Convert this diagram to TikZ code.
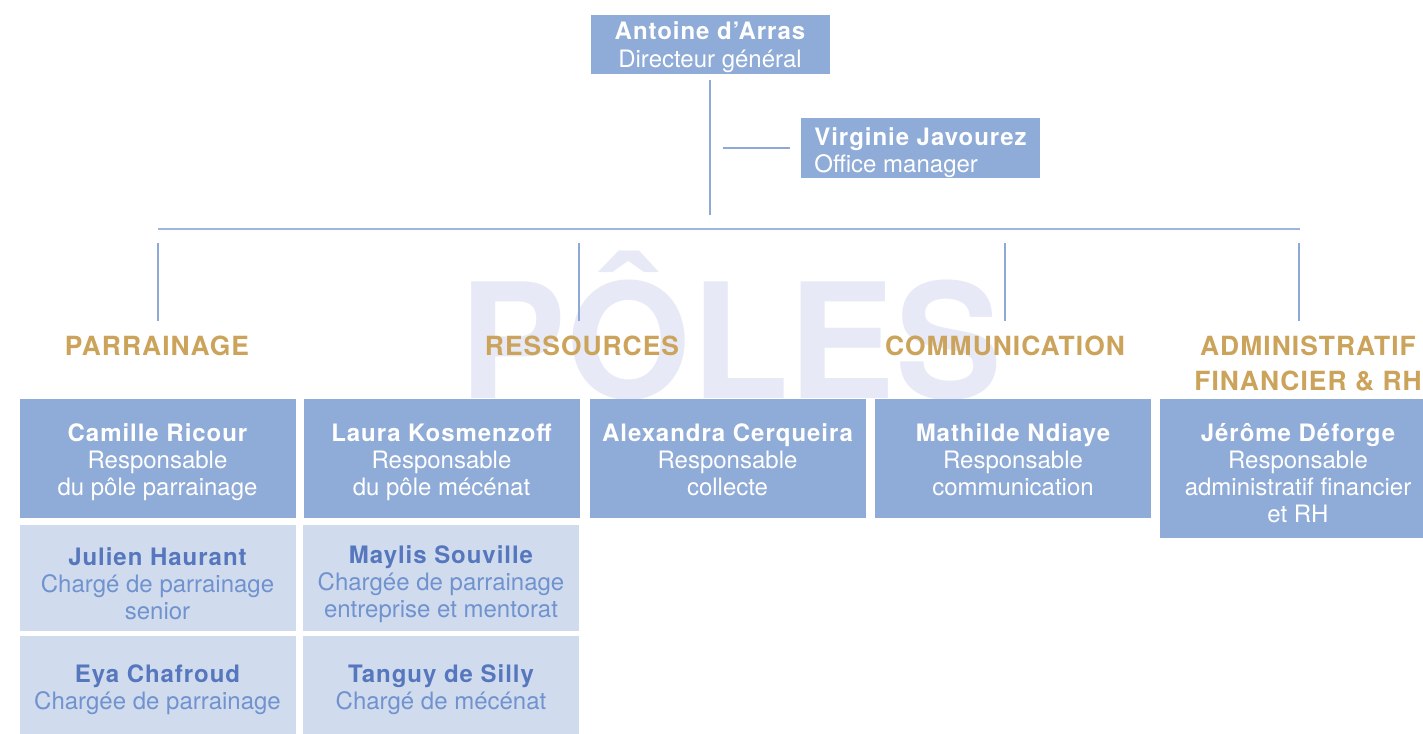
\documentclass[tikz,border=0pt]{standalone}
\usepackage{fontspec}
\setmainfont{TeX Gyre Heros}
\newfontfamily\bls[LetterSpace=4]{TeX Gyre Heros}
\definecolor{midb}{RGB}{143,171,215}
\definecolor{lightb}{RGB}{208,220,238}
\definecolor{namec}{RGB}{86,119,189}
\definecolor{rolec}{RGB}{112,146,206}
\definecolor{gold}{RGB}{204,163,90}
\definecolor{wm}{RGB}{231,234,246}
\definecolor{linec}{RGB}{142,168,216}
\newcommand\pname[1]{{\bls\bfseries #1}}
\newcommand\lname[1]{{\bls\bfseries\color{namec}#1}}
\newcommand\tup[1]{\rule{0pt}{#1}}
\tikzset{
  mbox/.style={fill=midb, text=white, minimum width=138pt, align=center, inner sep=0pt,
    font=\fontsize{12}{13.5}\selectfont},
  lbox/.style={fill=lightb, text=rolec, minimum width=138pt, align=center, inner sep=0pt,
    font=\fontsize{12}{13.5}\selectfont},
  head/.style={text=gold, align=center, inner sep=0pt,
    font=\fontsize{13.2}{17.5}\selectfont\bls\bfseries},
  conn/.style={draw=linec, line width=0.75pt}
}
\begin{document}
\begin{tikzpicture}[x=0.5pt,y=-0.5pt]
\useasboundingbox (0,0) rectangle (1423,733);
\fill[white] (0,0) rectangle (1423,733);
% watermark
\node[text=wm, anchor=base, inner sep=0pt, font=\fontsize{80}{80}\selectfont\bfseries] (wmk) at (731,398) {PÔLES};
% top
\node[mbox, minimum width=119.5pt, minimum height=29.5pt, font=\fontsize{12}{14}\selectfont] (dg) at (710,44.5) {\tup{12pt}\pname{Antoine d’Arras}\\Directeur général};
\node[mbox, minimum width=119.5pt, minimum height=30pt, align=left, font=\fontsize{12}{13.5}\selectfont] (om) at (920.5,148) {\tup{14pt}\pname{Virginie Javourez}\\Office manager};
% connectors
\coordinate (jn) at (710,215);
\draw[conn, shorten <=3pt] (dg.south) -- (jn);
\coordinate (omc) at (723,148);
\draw[conn, shorten <=5.5pt] (om.west) -- (omc);
\coordinate (hl) at (158,229);
\coordinate (hr) at (1300,229);
\draw[conn, line width=0.9pt, draw=linec!85] (hl) -- (hr);
\coordinate (d1a) at (158,243); \coordinate (d1b) at (158,321);
\coordinate (d2a) at (579,243); \coordinate (d2b) at (579,321);
\coordinate (d3a) at (1005,243); \coordinate (d3b) at (1005,321);
\coordinate (d4a) at (1299,243); \coordinate (d4b) at (1299,321);
\draw[conn] (d1a) -- (d1b);
\draw[conn] (d2a) -- (d2b);
\draw[conn] (d3a) -- (d3b);
\draw[conn] (d4a) -- (d4b);
% headings
\node[head] (hp) at (157,346) {PARRAINAGE};
\node[head] (hrs) at (582,346) {RESSOURCES};
\node[head] (hc) at (1005,346) {COMMUNICATION};
\node[head] (ha) at (1308,363.5) {ADMINISTRATIF\\FINANCIER \& RH};
% row 1
\node[mbox, minimum height=59.5pt] (cr) at (157.5,458.5) {\tup{13pt}\pname{Camille Ricour}\\Responsable\\du pôle parrainage};
\node[mbox, minimum height=59.5pt] (lk) at (441.5,458.5) {\tup{13pt}\pname{Laura Kosmenzoff}\\Responsable\\du pôle mécénat};
\node[mbox, minimum height=59.5pt] (ac) at (727.5,458.5) {\tup{10pt}\pname{Alexandra Cerqueira}\\Responsable\\collecte};
\node[mbox, minimum height=59.5pt] (mn) at (1013,458.5) {\tup{10pt}\pname{Mathilde Ndiaye}\\Responsable\\communication};
\node[mbox, minimum height=69.5pt] (jd) at (1298,468.5) {\tup{14pt}\pname{Jérôme Déforge}\\Responsable\\administratif financier\\et RH};
% row 2
\node[lbox, minimum height=53pt] (jh) at (157.5,578) {\tup{15pt}\lname{Julien Haurant}\\Chargé de parrainage\\senior};
\node[lbox, minimum height=53pt] (ms) at (441,578) {\tup{15pt}\lname{Maylis Souville}\\Chargée de parrainage\\entreprise et mentorat};
% row 3
\node[lbox, minimum height=51pt] (ec) at (157.5,687) {\tup{11.5pt}\lname{Eya Chafroud}\\Chargée de parrainage};
\node[lbox, minimum height=51pt] (ts) at (441,687) {\tup{11.5pt}\lname{Tanguy de Silly}\\Chargé de mécénat};
\end{tikzpicture}
\end{document}
